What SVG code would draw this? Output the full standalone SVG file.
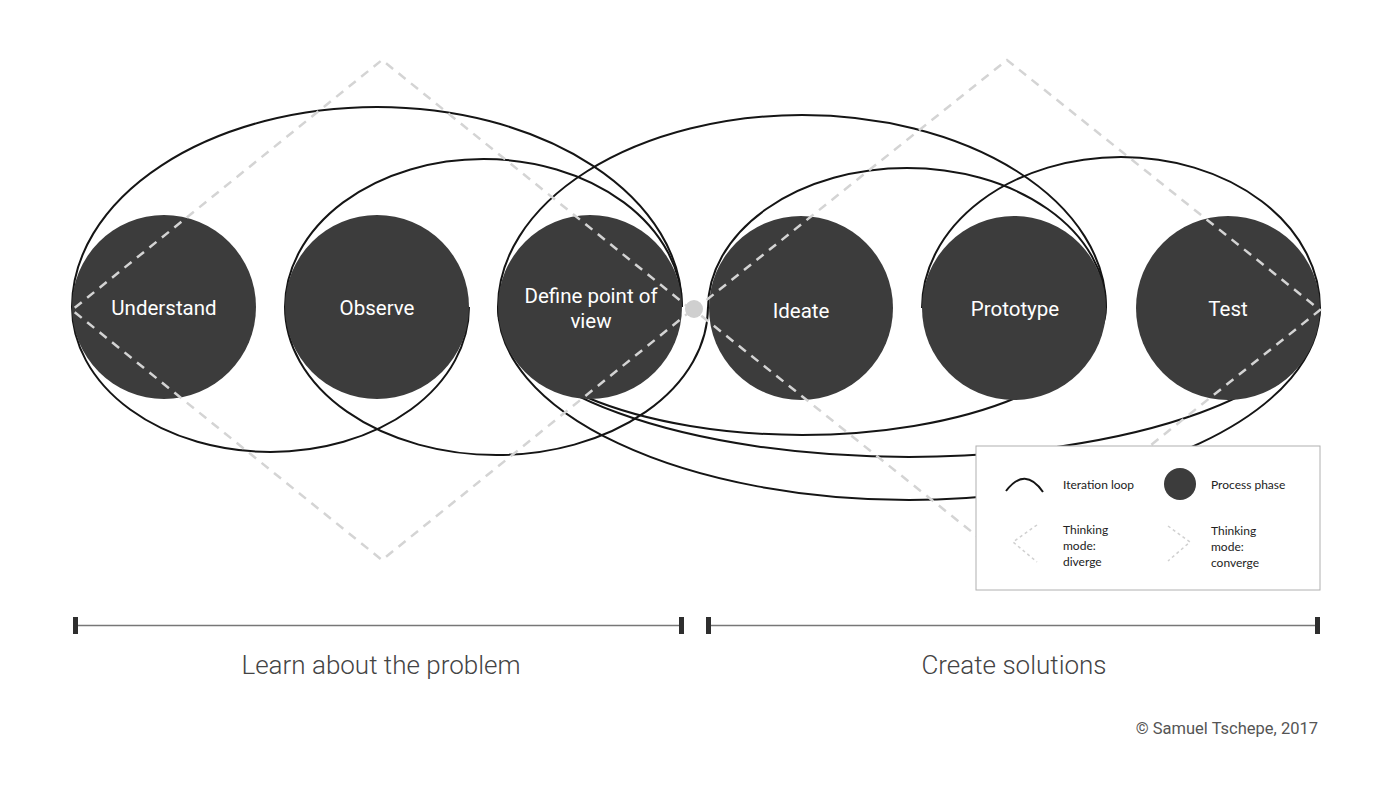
<svg xmlns="http://www.w3.org/2000/svg" width="1400" height="792" viewBox="0 0 1400 792">
<style>
.loop{fill:none;stroke:#151515;stroke-width:2}
.phase{fill:#3c3c3c}
.lbl{font-family:Roboto,"Liberation Sans",sans-serif;font-size:20.5px;fill:#ffffff;text-anchor:middle}
.mode{fill:none;stroke:#d4d4d4;stroke-width:2.5;stroke-dasharray:9 7}
.bar{stroke:#777;stroke-width:1.6}
.cap{fill:#2e2e2e}
.big{font-family:Roboto,"Liberation Sans",sans-serif;font-weight:300;font-size:26px;fill:#444;text-anchor:middle}
.lg{font-family:Lato,"Open Sans","Liberation Sans",sans-serif;font-size:12px;fill:#222}
.lgmode{fill:none;stroke:#d0d0d0;stroke-width:1.5;stroke-dasharray:3 3}
</style>
<rect width="1400" height="792" fill="#ffffff"/>
<g id="connectors">
<path class="loop" d="M72 307 A305 200 0 0 1 682 307"/>
<path class="loop" d="M285 307 A198.5 148 0 0 1 682 307"/>
<path class="loop" d="M498 307 A304 192 0 0 1 1106 307"/>
<path class="loop" d="M708 308 A199 140 0 0 1 1106 308"/>
<path class="loop" d="M922 308 A199 151 0 0 1 1320 308"/>
<path class="loop" d="M72 307 A198.5 145 0 0 0 469 307"/>
<path class="loop" d="M285 307 A211.5 148 0 0 0 708 307"/>
<path class="loop" d="M498 307 A304 128 0 0 0 1106 307"/>
<path class="loop" d="M498 307 A411 150 0 0 0 1320 307"/>
<path class="loop" d="M498 307 A411 193 0 0 0 1320 307"/>
</g>
<g id="understand"><circle class="phase" cx="164" cy="307" r="92"/><text class="lbl" x="164" y="315">Understand</text></g>
<g id="observe"><circle class="phase" cx="377" cy="307" r="92"/><text class="lbl" x="377" y="315">Observe</text></g>
<g id="define"><circle class="phase" cx="590" cy="307" r="92"/><text class="lbl" x="591" y="303">Define point of</text><text class="lbl" x="591" y="328">view</text></g>
<g id="ideate"><circle class="phase" cx="801" cy="308" r="92"/><text class="lbl" x="801" y="318">Ideate</text></g>
<g id="prototype"><circle class="phase" cx="1014" cy="308" r="92"/><text class="lbl" x="1015" y="316">Prototype</text></g>
<g id="test"><circle class="phase" cx="1228" cy="308" r="92"/><text class="lbl" x="1228" y="316">Test</text></g>
<g id="thinking-modes">
<path class="mode" d="M692 310 L382 60 L72 310 L382 560 L692 310"/>
<path class="mode" d="M694 310 L1007 60 L1320 310 L1007 560 L694 310"/>
<circle cx="694" cy="309" r="9" fill="#cfcfcf"/>
</g>
<g id="legend">
<rect x="976" y="446" width="344" height="144" fill="#ffffff" stroke="#b0b0b0" stroke-width="1"/>
<path d="M1006 491 Q1025 466 1043 492" fill="none" stroke="#151515" stroke-width="2"/>
<text class="lg" x="1063" y="489">Iteration loop</text>
<circle class="phase" cx="1180" cy="484" r="16"/>
<text class="lg" x="1211" y="489">Process phase</text>
<path class="lgmode" d="M1037 525 L1013 542 L1037 562"/>
<text class="lg" x="1063" y="534">Thinking</text>
<text class="lg" x="1063" y="550">mode:</text>
<text class="lg" x="1063" y="566">diverge</text>
<path class="lgmode" d="M1168 526 L1190 542 L1168 561"/>
<text class="lg" x="1211" y="535">Thinking</text>
<text class="lg" x="1211" y="551">mode:</text>
<text class="lg" x="1211" y="567">converge</text>
</g>
<g id="phase-bars">
<line class="bar" x1="76" y1="625.5" x2="681" y2="625.5"/>
<rect class="cap" x="73" y="617" width="5" height="17"/>
<rect class="cap" x="679" y="617" width="5" height="17"/>
<line class="bar" x1="709" y1="625.5" x2="1317" y2="625.5"/>
<rect class="cap" x="706" y="617" width="5" height="17"/>
<rect class="cap" x="1315" y="617" width="5" height="17"/>
<text class="big" x="381" y="674">Learn about the problem</text>
<text class="big" x="1014" y="674">Create solutions</text>
</g>
<text x="1318" y="734" font-family="Roboto,'Liberation Sans',sans-serif" font-size="16.5" fill="#555" text-anchor="end">© Samuel Tschepe, 2017</text>
</svg>
